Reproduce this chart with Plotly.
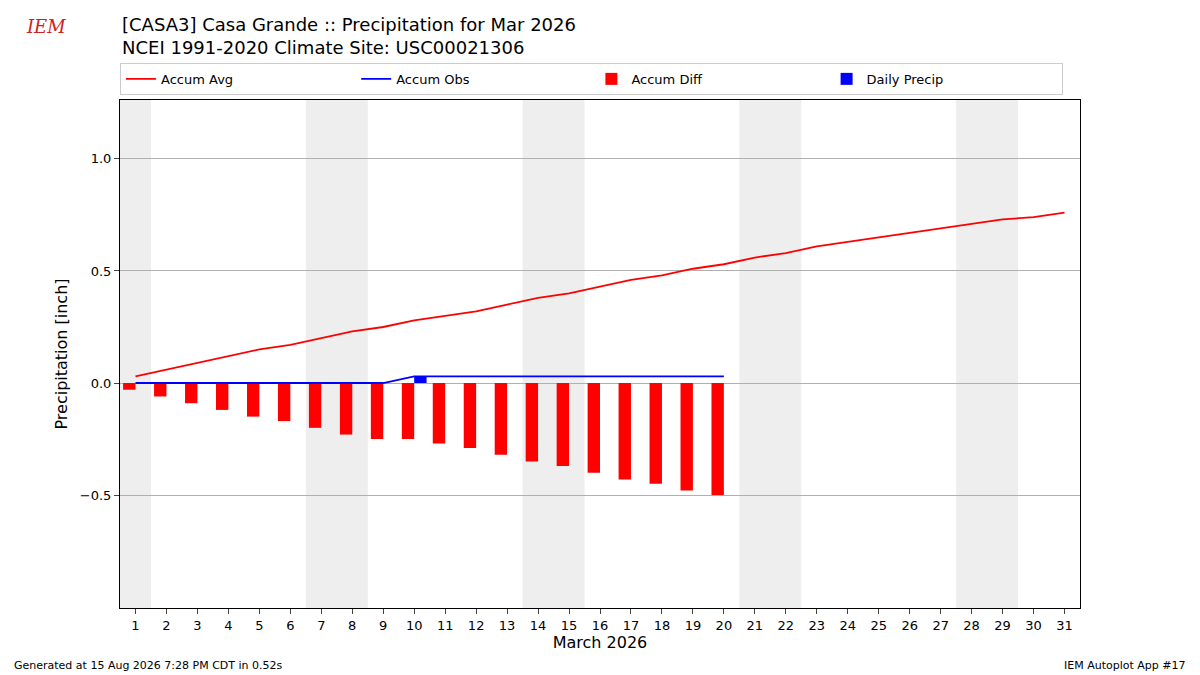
import plotly.graph_objects as go

days = list(range(1, 32))
accum_avg = [0.03, 0.06, 0.09, 0.12, 0.15, 0.17, 0.20, 0.23, 0.25, 0.28, 0.30, 0.32, 0.35, 0.38, 0.40,
             0.43, 0.46, 0.48, 0.51, 0.53, 0.56, 0.58, 0.61, 0.63, 0.65, 0.67, 0.69, 0.71, 0.73, 0.74, 0.76]
obs_days = list(range(1, 21))
accum_obs = [0, 0, 0, 0, 0, 0, 0, 0, 0, 0.03, 0.03, 0.03, 0.03, 0.03, 0.03, 0.03, 0.03, 0.03, 0.03, 0.03]
daily_precip = [0, 0, 0, 0, 0, 0, 0, 0, 0, 0.03, 0, 0, 0, 0, 0, 0, 0, 0, 0, 0]
accum_diff = [-0.03, -0.06, -0.09, -0.12, -0.15, -0.17, -0.20, -0.23, -0.25, -0.25, -0.27, -0.29, -0.32,
              -0.35, -0.37, -0.40, -0.43, -0.45, -0.48, -0.50]
weekends = [(0.5, 1.5), (6.5, 8.5), (13.5, 15.5), (20.5, 22.5), (27.5, 29.5)]

fig = go.Figure()
fig.add_trace(go.Scatter(x=days, y=accum_avg, mode="lines", name="Accum Avg",
                         line=dict(color="red", width=1.8)))
fig.add_trace(go.Scatter(x=obs_days, y=accum_obs, mode="lines", name="Accum Obs",
                         line=dict(color="blue", width=1.8)))
fig.add_trace(go.Bar(x=[d - 0.2 for d in obs_days], y=accum_diff, width=0.4, name="Accum Diff",
                     marker=dict(color="red", line_width=0)))
fig.add_trace(go.Bar(x=[d + 0.2 for d in obs_days], y=daily_precip, width=0.4, name="Daily Precip",
                     marker=dict(color="blue", line_width=0)))

for a, b in weekends:
    fig.add_vrect(x0=a, x1=b, fillcolor="#eeeeee", line_width=0, layer="below")

# page body adds 8px, so margins are shifted by that much
fig.update_layout(
    width=1200, height=675, plot_bgcolor="white", paper_bgcolor="white",
    margin=dict(l=112, r=128, t=92, b=75, autoexpand=False),
    font=dict(family="DejaVu Sans", size=13, color="black"),
    barmode="overlay", showlegend=True,
    legend=dict(orientation="h", x=0, y=1.01, xanchor="left", yanchor="bottom",
                entrywidth=0.245, entrywidthmode="fraction", bordercolor="#cccccc", borderwidth=1,
                font=dict(size=13), tracegroupgap=0, itemwidth=30),
    xaxis=dict(range=[0.5, 31.5], tickvals=days, showgrid=False, showline=True, linecolor="black",
               mirror=True, ticks="outside", automargin=False,
               title=dict(text="March 2026", font=dict(size=16), standoff=3)),
    yaxis=dict(range=[-1.004, 1.263], tickvals=[-0.5, 0, 0.5, 1.0], ticktext=["\u22120.5", "0.0", "0.5", "1.0"],
               showgrid=True, gridcolor="#b0b0b0", zeroline=False, showline=True, linecolor="black",
               mirror=True, ticks="outside", automargin=False,
               title=dict(text="Precipitation [inch]", font=dict(size=16), standoff=8)),
    annotations=[
        dict(text="[CASA3] Casa Grande :: Precipitation for Mar 2026<br>NCEI 1991-2020 Climate Site: USC00021306",
             xref="paper", yref="paper", x=0, y=1.078, xanchor="left", yanchor="bottom", align="left",
             showarrow=False, font=dict(size=18)),
        dict(text="Generated at 15 Aug 2026 7:28 PM CDT in 0.52s", xref="paper", yref="paper",
             x=-0.1125, y=-0.13, xanchor="left", showarrow=False, font=dict(size=11)),
        dict(text="IEM Autoplot App #17", xref="paper", yref="paper",
             x=1.1125, y=-0.13, xanchor="right", showarrow=False, font=dict(size=11)),
        dict(text="<i>IEM</i>", xref="paper", yref="paper", x=-0.1, y=1.17, xanchor="left",
             showarrow=False, font=dict(size=18, color="#cc2222", family="DejaVu Serif")),
    ],
)

fig.write_html("out.html")
